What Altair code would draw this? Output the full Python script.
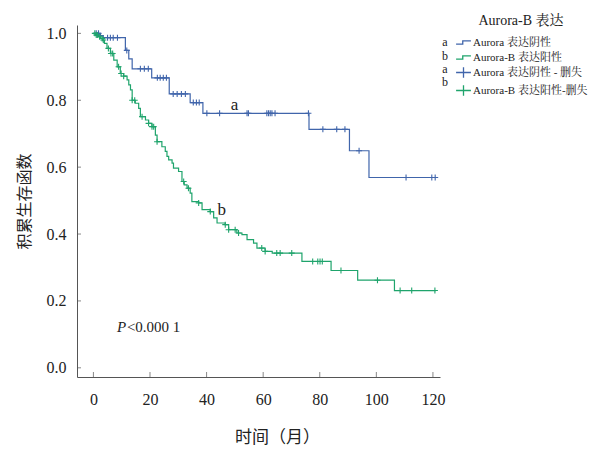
import bisect
import altair as alt
import pandas as pd

# ---------------- data ----------------
blue_label = "Aurora 表达阴性"
green_label = "Aurora-B 表达阳性"
blue_cens_label = "Aurora 表达阴性 - 删失"
green_cens_label = "Aurora-B 表达阳性-删失"

blue_times = [0, 2.5, 3.5, 11.3, 12.5, 13.7, 20.6, 26.8, 34.2, 38.7, 76.2, 90.5, 97.4, 120.8]
blue_surv = [1.0, 0.993, 0.987, 0.949, 0.924, 0.894, 0.867, 0.819, 0.793, 0.761, 0.713, 0.649, 0.569, 0.569]
blue_censor_times = [1.0, 1.8, 5.0, 6.0, 7.0, 8.5, 11.8, 16.6, 18.0, 19.4, 22.6, 23.6, 24.7, 25.8,
                     28.2, 29.6, 31.1, 32.5, 35.3, 36.4, 37.4, 40.1, 44.6, 54.3, 54.8, 61.3, 61.9,
                     62.5, 63.1, 64.2, 76.0, 81.1, 86.0, 88.9, 93.9, 110.5, 119.6, 120.8]

green_times = [0, 0.7, 1.8, 2.5, 3.2, 3.9, 4.8, 6.0, 7.2, 8.4, 9.5, 10.7, 11.9, 12.5, 13.1, 13.7,
               14.8, 16.0, 16.6, 18.4, 19.5, 20.7, 21.9, 22.5, 24.2, 25.4, 26.0, 26.6, 27.8, 28.3,
               30.1, 31.3, 32.1, 33.1, 34.2, 34.8, 37.2, 38.4, 41.3, 42.5, 43.7, 46.6, 47.8, 50.7,
               52.5, 54.3, 56.6, 57.8, 60.7, 63.2, 73.7, 84.0, 93.4, 106.4, 121.0]
green_surv = [1.0, 0.995, 0.99, 0.985, 0.98, 0.97, 0.955, 0.94, 0.92, 0.90, 0.88, 0.872, 0.861,
              0.846, 0.831, 0.80, 0.791, 0.776, 0.751, 0.741, 0.731, 0.721, 0.696, 0.676, 0.661,
              0.647, 0.632, 0.622, 0.612, 0.597, 0.587, 0.557, 0.547, 0.537, 0.522, 0.497, 0.493,
              0.473, 0.467, 0.448, 0.433, 0.428, 0.413, 0.403, 0.398, 0.383, 0.373, 0.358, 0.348,
              0.343, 0.318, 0.291, 0.262, 0.231, 0.231]
green_censor_times = [0.5, 1.0, 1.5, 2.2, 3.1, 3.5, 5.3, 6.2, 6.8, 8.9, 9.8, 10.7, 13.7, 14.6,
                      17.2, 19.5, 20.7, 21.3, 22.5, 31.9, 33.6, 37.2, 41.3, 46.6, 47.8, 50.1, 51.3,
                      59.5, 60.7, 64.8, 66.0, 70.1, 77.5, 79.3, 80.1, 80.9, 87.5, 100.4, 108.4,
                      112.5, 120.7]

x_ticks = [0, 20, 40, 60, 80, 100, 120]
y_ticks = [0.0, 0.2, 0.4, 0.6, 0.8, 1.0]

# ---------------- build tables ----------------
def step_value(times, surv, c):
    return surv[bisect.bisect_right(times, c) - 1]

lines = pd.concat([
    pd.DataFrame({"t": blue_times, "s": blue_surv, "grp": blue_label}),
    pd.DataFrame({"t": green_times, "s": green_surv, "grp": green_label}),
])
cens = pd.concat([
    pd.DataFrame({"t": blue_censor_times,
                  "s": [step_value(blue_times, blue_surv, c) for c in blue_censor_times],
                  "grp": blue_cens_label}),
    pd.DataFrame({"t": green_censor_times,
                  "s": [step_value(green_times, green_surv, c) for c in green_censor_times],
                  "grp": green_cens_label}),
])
legend_df = pd.DataFrame({"grp": [blue_label, green_label, blue_cens_label, green_cens_label]})

# ---------------- styling ----------------
BLUE = "#4065ab"
GREEN = "#1fa46c"
SERIF = "'Liberation Serif', 'Noto Serif CJK SC', 'Noto Sans CJK SC', serif"
CJK = "'Noto Sans CJK SC', sans-serif"
TXT = "#222222"
XMIN, XMAX = -5.8, 122.5
YMIN, YMAX = -0.0275, 1.025

STEP_PATH = "M-1,0.22H-0.1V-0.22H1"
CROSS_PATH = "M-1,0H1M0,-0.7V0.7"
TICK_CROSS = "M-1,0H1M0,-1V1"

domain = [blue_label, green_label, blue_cens_label, green_cens_label]
cscale = alt.Scale(domain=domain, range=[BLUE, GREEN, BLUE, GREEN])
sscale = alt.Scale(domain=domain, range=[STEP_PATH, STEP_PATH, CROSS_PATH, CROSS_PATH])

leg = alt.Legend(
    title="Aurora-B 表达", orient="none", legendX=378, legendY=-11,
    titleFont=SERIF, titleFontSize=14, titleFontWeight="normal", titleColor=TXT,
    titleAnchor="middle", titlePadding=6,
    labelFont=SERIF, labelFontSize=11, labelColor=TXT, labelOffset=1,
    symbolSize=220, symbolStrokeWidth=1.3, symbolOpacity=1, rowPadding=1,
)

xscale = alt.Scale(domain=[XMIN, XMAX], nice=False, zero=False)
yscale = alt.Scale(domain=[YMIN, YMAX], nice=False, zero=False)

xaxis = alt.Axis(values=x_ticks, title="时间（月）", ticks=False, grid=False,
                 domainColor="#555", labelFont=SERIF, labelFontSize=16, labelColor=TXT,
                 labelPadding=14, titleFont=CJK, titleFontSize=17, titleFontWeight="normal",
                 titleColor=TXT, titlePadding=22, titleX=200, labelFlush=False)
yaxis = alt.Axis(values=y_ticks, format=".1f", title="积累生存函数", ticks=False, grid=False,
                 domainColor="#555", labelFont=SERIF, labelFontSize=16, labelColor=TXT,
                 labelPadding=11, titleFont=CJK, titleFontSize=16, titleFontWeight="normal",
                 titleColor=TXT, titlePadding=14)

X = alt.X("t:Q", scale=xscale, axis=xaxis)
Y = alt.Y("s:Q", scale=yscale, axis=yaxis)

line_layer = alt.Chart(lines).mark_line(interpolate="step-after", strokeWidth=1.2, clip=True).encode(
    x=X, y=Y, color=alt.Color("grp:N", scale=cscale, legend=leg)
)
cens_layer = alt.Chart(cens).mark_point(shape=TICK_CROSS, size=36, filled=False, strokeWidth=1.1,
                                        opacity=1, clip=True).encode(
    x="t:Q", y="s:Q", color=alt.Color("grp:N", scale=cscale, legend=leg)
)
legend_layer = alt.Chart(legend_df).mark_point(filled=False, opacity=0).encode(
    x=alt.datum(0), y=alt.datum(0.5),
    color=alt.Color("grp:N", scale=cscale, legend=leg),
    shape=alt.Shape("grp:N", scale=sscale, legend=leg),
)

ytick_layer = alt.Chart(pd.DataFrame({"v": y_ticks})).mark_tick(
    orient="horizontal", size=8, thickness=1, color="#555", clip=True
).encode(x=alt.datum(XMIN), y="v:Q")
xtick_layer = alt.Chart(pd.DataFrame({"v": x_ticks})).mark_tick(
    orient="vertical", size=10, thickness=1, color="#555", clip=True
).encode(x="v:Q", y=alt.datum(YMIN))

one = alt.Data(values=[{}])
ann_a = alt.Chart(one).mark_text(text="a", font=SERIF, fontSize=17, color=TXT).encode(
    x=alt.datum(49.9), y=alt.datum(0.786))
ann_b = alt.Chart(one).mark_text(text="b", font=SERIF, fontSize=17, color=TXT).encode(
    x=alt.datum(45.4), y=alt.datum(0.472))
ann_p = alt.Chart(one).mark_text(text="P", font=SERIF, fontSize=15, fontStyle="italic",
                                 align="left", color=TXT).encode(
    x=alt.datum(8.3), y=alt.datum(0.122))
ann_pv = alt.Chart(one).mark_text(text="<0.000 1", font=SERIF, fontSize=15, align="left",
                                  dx=10, color=TXT).encode(
    x=alt.datum(8.3), y=alt.datum(0.122))

letter_layers = []
for letter, ypx in [("a", 16.5), ("b", 30.5), ("a", 44), ("b", 56.5)]:
    letter_layers.append(
        alt.Chart(one).mark_text(text=letter, font=SERIF, fontSize=12, color=TXT).encode(
            x=alt.value(368), y=alt.value(ypx))
    )

chart = alt.layer(
    line_layer, cens_layer, legend_layer, ytick_layer, xtick_layer,
    ann_a, ann_b, ann_p, ann_pv, *letter_layers
).properties(
    width=363, height=352,
    autosize=alt.AutoSizeParams(type="none"),
    padding={"left": 69, "top": 17, "right": 150, "bottom": 74},
).configure_view(stroke=None)

chart.save("out.html", embed_options={"renderer": "svg", "actions": False})
